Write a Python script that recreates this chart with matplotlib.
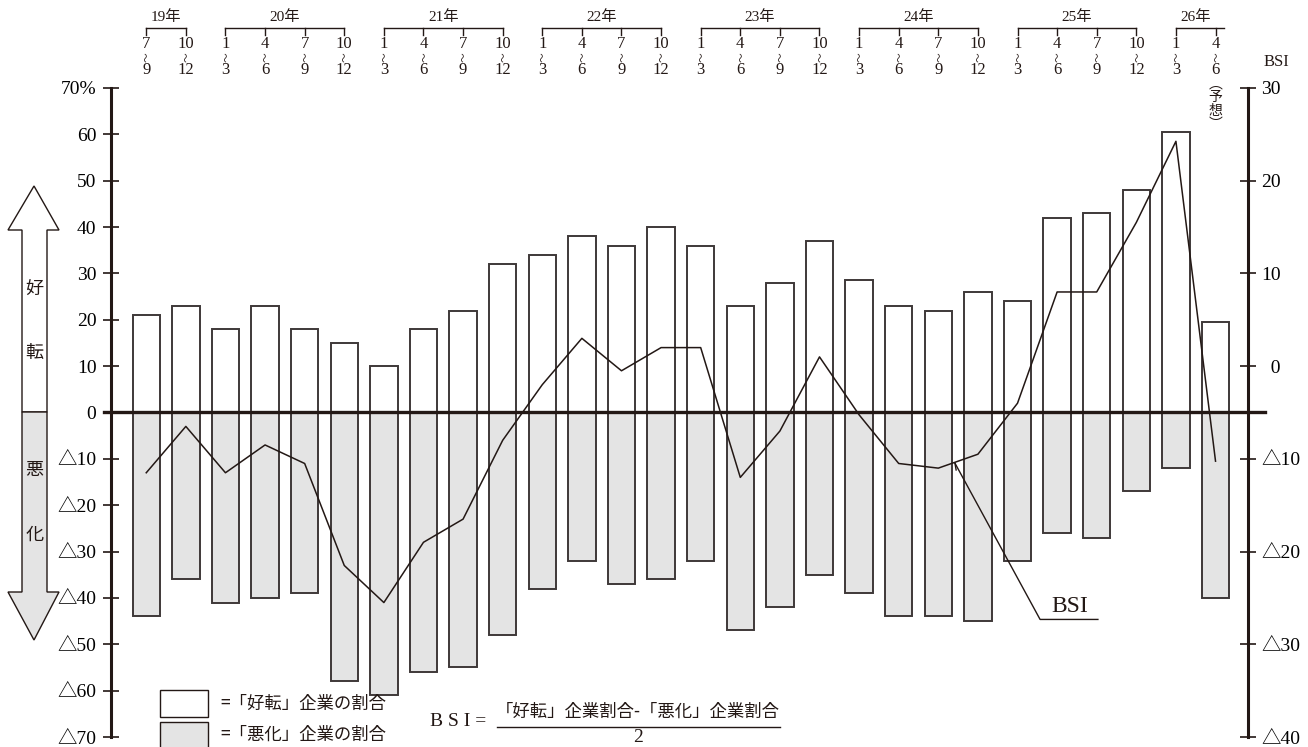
import matplotlib.pyplot as plt
import numpy as np
from matplotlib.patches import Polygon, Rectangle
from matplotlib.transforms import blended_transform_factory

plt.rcParams['font.family'] = ['Liberation Serif', 'Noto Sans CJK JP']

ink = '#231815'
edge = '#3e3838'
gray = '#e4e4e4'
jp = ['Noto Sans CJK JP']

# 調査期間
year_labels = ['19年', '20年', '21年', '22年', '23年', '24年', '25年', '26年']
year_counts = [2, 4, 4, 4, 4, 4, 4, 2]
q_from = ['7', '10'] + ['1', '4', '7', '10'] * 6 + ['1', '4']
q_to = ['9', '12'] + ['3', '6', '9', '12'] * 6 + ['3', '6']

# 「好転」企業の割合 (%)
improved = [21, 23, 18, 23, 18, 15, 10, 18, 22, 32, 34, 38, 36, 40, 36, 23,
            28, 37, 28.5, 23, 22, 26, 24, 42, 43, 48, 60.5, 19.5]
# 「悪化」企業の割合 (%)
worsened = [-44, -36, -41, -40, -39, -58, -61, -56, -55, -48, -38, -32, -37,
            -36, -32, -47, -42, -35, -39, -44, -44, -45, -32, -26, -27, -17,
            -12, -40]
# BSI
bsi = [-11.5, -6.5, -11.5, -8.5, -10.5, -21.5, -25.5, -19, -16.5, -8, -2, 3,
       -0.5, 2, 2, -12, -7, 1, -5.25, -10.5, -11, -9.5, -4, 8, 8, 15.5,
       24.25, -10.25]

left_ticks = list(range(-70, 71, 10))
left_labels = ['△' + str(-v) if v < 0 else str(v) for v in left_ticks]
left_labels[-1] = '70%'
right_ticks = list(range(-40, 31, 10))
right_labels = ['△' + str(-v) if v < 0 else str(v) for v in right_ticks]
right_labels[right_ticks.index(0)] = '  0'

W, H = 1308, 747
fig = plt.figure(figsize=(W / 100, H / 100), dpi=100)
ax = fig.add_axes([111 / W, 10 / H, (1248 - 111) / W, (737 - 88) / H])

x = np.arange(len(improved))
ax.bar(x, improved, width=0.69, color='white', edgecolor=edge, linewidth=1.4, zorder=2)
ax.bar(x, worsened, width=0.69, color=gray, edgecolor=edge, linewidth=1.4, zorder=2)
ax.plot([-1.07, 28.25], [0, 0], color=ink, lw=2.4, clip_on=False, zorder=3)

ax.set_xlim(-0.89, 27.82)
ax.set_ylim(-70, 70)
ax.set_xticks([])
ax.set_yticks(left_ticks)
ax.set_yticklabels(left_labels, fontsize=14)
ax.tick_params(axis='y', direction='inout', length=11, width=1.2, color=ink, pad=5)
for side in ['top', 'right', 'bottom']:
    ax.spines[side].set_visible(False)
ax.spines['left'].set_linewidth(2.2)
ax.spines['left'].set_color(ink)
ax.patch.set_alpha(0)

ax2 = ax.twinx()
ax2.set_ylim(-40, 30)
ax2.plot(x, bsi, color=ink, lw=1.1, zorder=4)
ax2.set_yticks(right_ticks)
ax2.set_yticklabels(right_labels, fontsize=14)
ax2.tick_params(axis='y', direction='inout', length=11, width=1.2, color=ink, pad=4)
for side in ['top', 'left', 'bottom']:
    ax2.spines[side].set_visible(False)
ax2.spines['right'].set_linewidth(2.2)
ax2.spines['right'].set_color(ink)

# BSI の引き出し線
ax2.plot([20.42, 22.57, 24.03], [-10.46, -27.32, -27.32], color=ink, lw=1.0)
ax2.plot([20.42, 20.45], [-10.46, -11.2], color=ink, lw=1.0)
ax2.text(23.32, -25.9, 'BSI', fontsize=17, ha='center', va='center', color=ink)

# 上部の期間見出し
hdr = blended_transform_factory(ax.transData, fig.transFigure)
def fy(px):
    return 1 - px / H

start = 0
for label, n in zip(year_labels, year_counts):
    idx = list(range(start, start + n))
    right_end = idx[-1] + (0.22 if label == '26年' else 0)
    ax.plot([idx[0], right_end], [fy(28), fy(28)], transform=hdr, color=ink,
            lw=1.0, clip_on=False)
    for i in idx:
        ax.plot([i, i], [fy(28), fy(35)], transform=hdr, color=ink, lw=1.0,
                clip_on=False)
    ax.text((idx[0] + idx[-1]) / 2, fy(17), label, transform=hdr, ha='center',
            va='center', fontsize=11, color=ink)
    start += n

for i, (a, b) in enumerate(zip(q_from, q_to)):
    ax.text(i, fy(44), a, transform=hdr, ha='center', va='center', fontsize=12, color=ink)
    ax.text(i, fy(57), '〜', transform=hdr, ha='center', va='center', fontsize=7,
            rotation=90, family=jp, color=ink)
    ax.text(i, fy(70), b, transform=hdr, ha='center', va='center', fontsize=12, color=ink)

ax.text(27, fy(77), '︵\n予\n想\n︶', transform=hdr, ha='center', va='top',
        fontsize=10, family=jp, linespacing=0.95, color=ink)
fig.text(1276 / W, fy(62), 'BSI', ha='center', va='center', fontsize=12, color=ink)

# 左側の矢印
def pts(seq):
    return [(px / W, fy(py)) for px, py in seq]

up = Polygon(pts([(34, 186), (59, 230), (47, 230), (47, 412), (22, 412),
                  (22, 230), (8, 230)]), closed=True, facecolor='white',
             edgecolor=ink, lw=1.0, transform=fig.transFigure)
down = Polygon(pts([(22, 412), (47, 412), (47, 592), (59, 592), (34, 640),
                    (8, 592), (22, 592)]), closed=True, facecolor=gray,
               edgecolor=ink, lw=1.0, transform=fig.transFigure)
fig.patches.extend([up, down])
for ch, py in [('好', 290), ('転', 353), ('悪', 470), ('化', 535)]:
    fig.text(34.5 / W, fy(py), ch, ha='center', va='center', fontsize=13,
             family=jp, color=ink)

# 凡例
fig.patches.append(Rectangle((160 / W, fy(717)), 48 / W, 27 / H, facecolor='white',
                             edgecolor=ink, lw=1.0, transform=fig.transFigure))
fig.patches.append(Rectangle((160 / W, fy(750)), 48 / W, 28 / H, facecolor=gray,
                             edgecolor=ink, lw=1.0, transform=fig.transFigure))
fig.text(220 / W, fy(704), '=「好転」企業の割合', ha='left', va='center',
         fontsize=12.5, family=jp, color=ink)
fig.text(220 / W, fy(735), '=「悪化」企業の割合', ha='left', va='center',
         fontsize=12.5, family=jp, color=ink)

# BSI の算式
fig.text(430 / W, fy(721), 'B S I =', ha='left', va='center', fontsize=14, color=ink)
fig.text(638 / W, fy(712), '「好転」企業割合-「悪化」企業割合', ha='center',
         va='center', fontsize=12.5, family=jp, color=ink)
fig.lines.append(plt.Line2D([497 / W, 780 / W], [fy(727), fy(727)],
                            transform=fig.transFigure, color=ink, lw=1.0))
fig.text(638 / W, fy(738), '2', ha='center', va='center', fontsize=14, color=ink)

fig.savefig('out.png', dpi=100)
